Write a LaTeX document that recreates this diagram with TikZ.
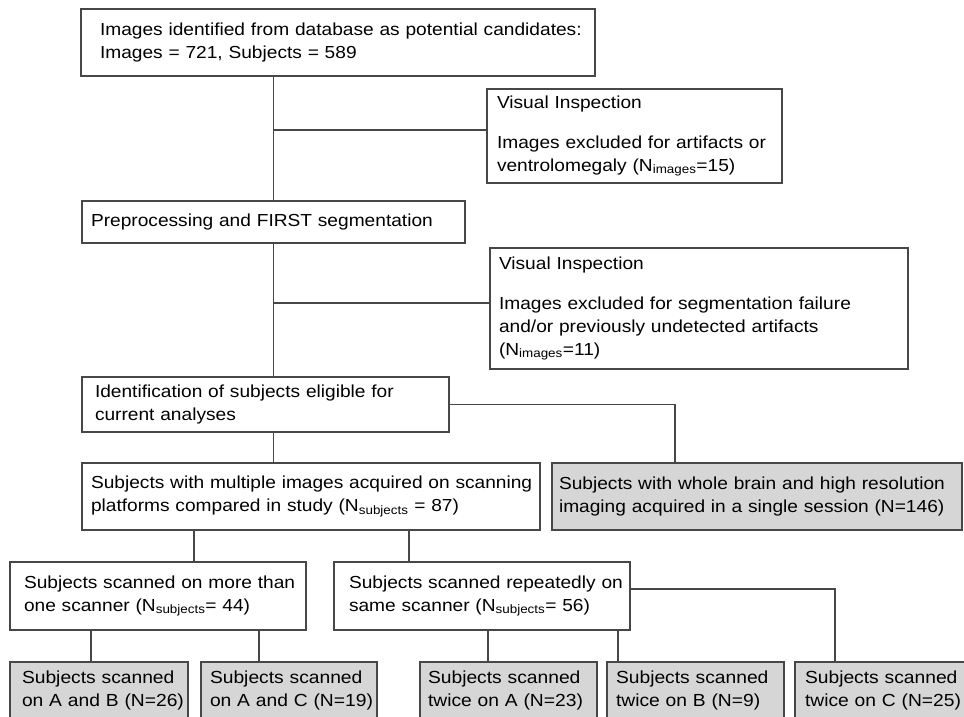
\documentclass[tikz,border=0pt]{standalone}
\usepackage{fontspec}
\setmainfont{Liberation Sans}[FakeStretch=1.1]
\usetikzlibrary{calc}

\tikzset{every picture/.style={line width=0.75pt}}
\tikzset{
  box/.style={draw=black!72, line width=1.3pt, anchor=north west, align=left,
    inner xsep=0pt, inner ysep=0pt, outer sep=0pt, font=\fontsize{17.4}{23}\selectfont},
  lowbox/.style={box, fill=black!16, minimum height=57pt, font=\fontsize{17.5}{22.6}\selectfont},
  graybox/.style={box, fill=black!16},
  indent/.style={execute at begin node={\leftskip=#1pt}},
  link/.style={draw=black!72, line width=1.3pt},
}

\begin{document}
\begin{tikzpicture}[x=1pt,y=1pt,yscale=-1]
\clip (0,0) rectangle (964,717);

\node [box, indent=19, text width=514pt, minimum height=67pt] (cand) at (81,9)
  {Images identified from database as potential candidates:\\Images = 721, Subjects = 589};
\node [box, indent=10, text width=295pt, minimum height=94pt] (vis1) at (487,89)
  {Visual Inspection\\[17pt]Images excluded for artifacts or\\ventrolomegaly (N\textsubscript{images}=15)};
\node [box, indent=9, text width=383pt, minimum height=42pt] (prep) at (82,201)
  {Preprocessing and FIRST segmentation};
\node [box, indent=9, text width=418pt, minimum height=121pt] (vis2) at (490,248)
  {Visual Inspection\\[17pt]Images excluded for segmentation failure\\and/or previously undetected artifacts\\(N\textsubscript{images}=11)};
\node [box, indent=13, text width=367pt, minimum height=55pt] (ident) at (82,377)
  {Identification of subjects eligible for\\current analyses};
\node [box, indent=9, text width=458pt, minimum height=67pt] (multi) at (82,463)
  {Subjects with multiple images acquired on scanning\\platforms compared in study (N\textsubscript{subjects} = 87)};
\node [graybox, indent=7, text width=410pt, minimum height=67pt] (whole) at (552,463)
  {Subjects with whole brain and high resolution\\imaging acquired in a single session (N=146)};
\node [box, indent=14, text width=296pt, minimum height=68pt] (multiscan) at (10,562)
  {Subjects scanned on more than\\one scanner (N\textsubscript{subjects}= 44)};
\node [box, indent=15, text width=296pt, minimum height=68pt] (repeat) at (334,562)
  {Subjects scanned repeatedly on\\same scanner (N\textsubscript{subjects}= 56)};

% bottom row, cut by the lower edge
\node [lowbox, indent=12, text width=178pt] (onab) at (10,662)
  {Subjects scanned\\on A and B (N=26)};
\node [lowbox, indent=9, text width=176pt] (onac) at (201,662)
  {Subjects scanned\\on A and C (N=19)};
\node [lowbox, indent=8, text width=177pt] (twicea) at (420,662)
  {Subjects scanned\\twice on A (N=23)};
\node [lowbox, indent=9, text width=177pt] (twiceb) at (607,662)
  {Subjects scanned\\twice on B (N=9)};
\node [lowbox, indent=10, text width=176pt] (twicec) at (795,662)
  {Subjects scanned\\twice on C (N=25)};

\coordinate (v1) at ($(vis1.north west)+(0,41)$);
\coordinate (v2) at ($(vis2.north west)+(0,55)$);
\coordinate (w1) at ($(whole.north west)+(123,0)$);
\coordinate (m1) at ($(multi.south west)+(112,0)$);
\coordinate (m2) at ($(multi.south west)+(327,0)$);
\coordinate (s1) at ($(multiscan.south west)+(81,0)$);
\coordinate (s2) at ($(multiscan.south west)+(249,0)$);
\coordinate (r1) at ($(repeat.south west)+(154,0)$);
\coordinate (r2) at ($(repeat.south west)+(284,0)$);
\coordinate (r3) at ($(repeat.north east)+(0,27)$);
\coordinate (c3) at ($(twicec.north west)+(40,0)$);

\draw [link] (prep.north) -- (prep.north |- cand.south);
\draw [link] (v1) -- (v1 -| prep.north);
\draw [link] (prep.south) -- (prep.south |- ident.north);
\draw [link] (v2) -- (v2 -| prep.south);
\draw [link] (prep.south |- ident.south) -- (prep.south |- multi.north);
\draw [link] (ident.east) -| (w1);
\draw [link] (m1) -- (m1 |- multiscan.north);
\draw [link] (m2) -- (m2 |- repeat.north);
\draw [link] (s1) -- (s1 |- onab.north);
\draw [link] (s2) -- (s2 |- onac.north);
\draw [link] (r1) -- (r1 |- twicea.north);
\draw [link] (r2) -- (r2 |- twiceb.north);
\draw [link] (r3) -| (c3);

\end{tikzpicture}
\end{document}
